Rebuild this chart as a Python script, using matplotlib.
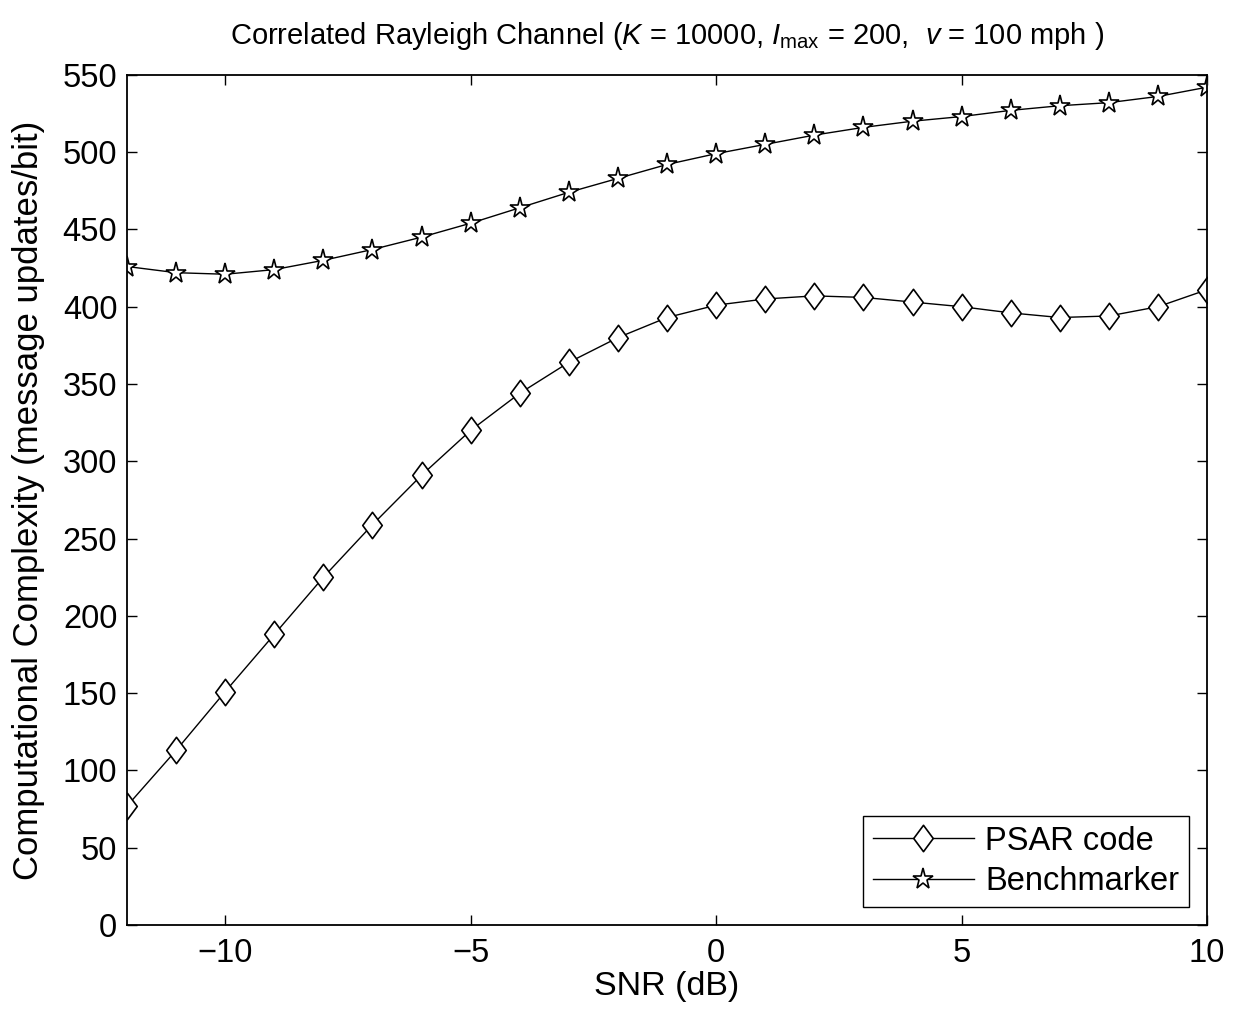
import matplotlib
matplotlib.use('Agg')
import matplotlib.pyplot as plt
from matplotlib.path import Path

# ---- data ----
snr_db = [-12, -11, -10, -9, -8, -7, -6, -5, -4, -3, -2, -1,
          0, 1, 2, 3, 4, 5, 6, 7, 8, 9, 10]
psar = [77, 113, 151, 188, 225, 259, 291, 320, 344, 364, 380, 393,
        401, 405, 407, 406, 403, 400, 396, 393, 394, 400, 411]
bench = [426, 422, 421, 424, 430, 437, 445, 454, 464, 474, 483, 492,
         499, 505, 511, 516, 520, 523, 527, 530, 532, 536, 542]

plt.rcParams['font.family'] = ['Liberation Sans', 'DejaVu Sans']
plt.rcParams['mathtext.fontset'] = 'custom'
plt.rcParams['mathtext.rm'] = 'Liberation Sans'
plt.rcParams['mathtext.it'] = 'Liberation Sans:italic'

# MATLAB-style diamond (wider than matplotlib's thin 'd')
diamond = Path([(0, 1), (0.74, 0), (0, -1), (-0.74, 0), (0, 1)],
               [Path.MOVETO, Path.LINETO, Path.LINETO, Path.LINETO, Path.CLOSEPOLY])

fig = plt.figure(figsize=(12.33, 10.11), dpi=100)
ax = fig.add_axes([0.103, 0.085, 0.876, 0.841])

ax.plot(snr_db, psar, '-', color='k', lw=1.0, marker=diamond, ms=19,
        mfc='white', mec='k', mew=1.2, label='PSAR code')
ax.plot(snr_db, bench, '-', color='k', lw=1.0, marker='*', ms=15.5,
        mfc='white', mec='k', mew=1.2, label='Benchmarker')

ax.set_xlim(-12, 10)
ax.set_ylim(0, 550)
ax.set_xticks([-10, -5, 0, 5, 10])
ax.set_yticks(range(0, 551, 50))
ax.tick_params(direction='in', length=7, width=1.0, labelsize=23.5,
               top=True, right=True)
ax.tick_params(axis='x', pad=9)
ax.tick_params(axis='y', pad=7)
for s in ax.spines.values():
    s.set_linewidth(1.3)

ax.set_xlabel('SNR (dB)', fontsize=24.5, labelpad=2)
ax.set_ylabel('Computational Complexity (message updates/bit)', fontsize=25,
              labelpad=13)
ax.set_title(r'Correlated Rayleigh Channel ($K$ = 10000, $I_{\rm max}$ = 200,  $v$ = 100 mph )',
             fontsize=21, pad=22)

leg = ax.legend(loc='lower right', fontsize=23.5, handlelength=3.1,
                fancybox=False, framealpha=1, edgecolor='k',
                borderaxespad=0.55, borderpad=0.3, labelspacing=0.3,
                handletextpad=0.35)
leg.get_frame().set_linewidth(1.0)

fig.savefig('out.png', dpi=100)
plt.close(fig)
